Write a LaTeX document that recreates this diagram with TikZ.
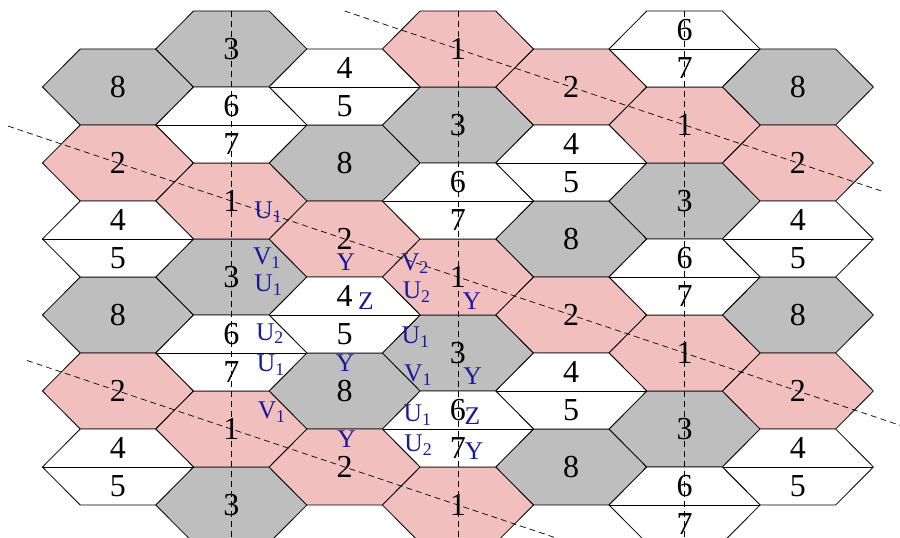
\documentclass[tikz,border=0pt]{standalone}
\usepackage{fontspec}
\setmainfont{Liberation Serif}
\usepackage{xcolor}
\usetikzlibrary{calc}

\definecolor{hexgray}{RGB}{190,190,190}
\definecolor{hexpink}{RGB}{242,191,191}
\definecolor{labblue}{RGB}{25,25,155}

\tikzset{
  graycell/.style={fill=hexgray,draw=black,line width=0.8pt},
  pinkcell/.style={fill=hexpink,draw=black,line width=0.8pt},
  whitecell/.style={fill=white,draw=black,line width=0.8pt},
  numlab/.style={inner sep=0pt,font=\fontsize{32}{32}\selectfont},
  blab/.style={inner sep=0pt,anchor=base,text=labblue,font=\fontsize{25.5}{26}\selectfont},
  axisline/.style={dash pattern=on 6pt off 4pt,line width=0.7pt},
}

\begin{document}
\begin{tikzpicture}[x=37.77pt,y=-38pt]
\useasboundingbox (-3.124,-0.289) rectangle (20.704,13.868);
\clip (-3.124,-0.289) rectangle (20.704,13.868);
% full cells
\foreach \c/\k/\s/\n in {0/2/graycell/8,0/8/graycell/8,2/4/graycell/8,2/10/graycell/8,4/6/graycell/8,4/12/graycell/8,6/2/graycell/8,6/8/graycell/8,
  1/1/graycell/3,1/7/graycell/3,1/13/graycell/3,3/3/graycell/3,3/9/graycell/3,5/5/graycell/3,5/11/graycell/3,
  0/4/pinkcell/2,0/10/pinkcell/2,2/6/pinkcell/2,2/12/pinkcell/2,4/2/pinkcell/2,4/8/pinkcell/2,6/4/pinkcell/2,6/10/pinkcell/2,
  1/5/pinkcell/1,1/11/pinkcell/1,3/1/pinkcell/1,3/7/pinkcell/1,3/13/pinkcell/1,5/3/pinkcell/1,5/9/pinkcell/1} {
  \path[\s] (3*\c,\k) ++(2,0) -- ++(-1,1) -- ++(-2,0) -- ++(-1,-1) -- ++(1,-1) -- ++(2,0) -- cycle;
}
% split cells
\foreach \c/\k in {0/6,0/12,2/2,2/8,4/4,4/10,6/6,6/12,1/3,1/9,3/5,3/11,5/1,5/7,5/13} {
  \path[whitecell] (3*\c,\k) ++(2,0) -- ++(-1,1) -- ++(-2,0) -- ++(-1,-1) -- ++(1,-1) -- ++(2,0) -- cycle;
  \draw[line width=0.8pt] (3*\c-2,\k) -- (3*\c+2,\k);
}

% dashed axes
\foreach \name/\x in {a1/3,a2/9,a3/15} {
  \coordinate (\name t) at (\x,0);
  \coordinate (\name b) at (\x,14);
  \draw[axisline] (\name t) -- (\name b);
}
\coordinate (d1s) at (6,0);
\coordinate (d1e) at (20.25,4.75);
\coordinate (d2s) at (-2.91,3.03);
\coordinate (d2e) at (21,11);
\coordinate (d3s) at (-2.41,9.197);
\coordinate (d3e) at (12.6,14.2);
\draw[axisline] (d1s) -- (d1e);
\draw[axisline] (d2s) -- (d2e);
\draw[axisline] (d3s) -- (d3e);

% numbers
\foreach \c/\k/\n in {0/2/8,0/8/8,2/4/8,2/10/8,4/6/8,4/12/8,6/2/8,6/8/8,
  1/1/3,1/7/3,1/13/3,3/3/3,3/9/3,5/5/3,5/11/3,
  0/4/2,0/10/2,2/6/2,2/12/2,4/2/2,4/8/2,6/4/2,6/10/2,
  1/5/1,1/11/1,3/1/1,3/7/1,3/13/1,5/3/1,5/9/1} {
  \node[numlab] (n\c-\k) at (3*\c,\k) {\n};
}
\foreach \c/\k/\a/\b in {0/6/4/5,0/12/4/5,2/2/4/5,2/8/4/5,4/4/4/5,4/10/4/5,6/6/4/5,6/12/4/5,
  1/3/6/7,1/9/6/7,3/5/6/7,3/11/6/7,5/1/6/7,5/7/6/7,5/13/6/7} {
  \node[numlab] (t\c-\k) at (3*\c,\k-0.5) {\a};
  \node[numlab] (b\c-\k) at (3*\c,\k+0.5) {\b};
}

% blue labels
\foreach \name/\x/\y/\t in {u1/3.98/5.455/U\textsubscript{1},v1/3.945/6.684/V\textsubscript{1},u2/3.98/7.387/U\textsubscript{1},
  y1/6.03/6.842/Y,z1/6.566/7.868/Z,v2/7.863/6.816/V\textsubscript{2},u3/7.908/7.561/U\textsubscript{2},y2/9.365/7.868/Y,
  u4/7.877/8.745/U\textsubscript{1},u5/4.024/8.658/U\textsubscript{2},u6/4.046/9.492/U\textsubscript{1},y3/6.01/9.492/Y,
  v3/4.07/10.718/V\textsubscript{1},v4/7.943/9.745/V\textsubscript{1},y4/9.386/9.834/Y,u7/7.93/10.797/U\textsubscript{1},
  z2/9.386/10.887/Z,u8/7.951/11.587/U\textsubscript{2},y5/9.425/11.808/Y,y6/6.055/11.482/Y} {
  \node[blab] (\name) at (\x,\y) {\t};
}
\end{tikzpicture}
\end{document}
